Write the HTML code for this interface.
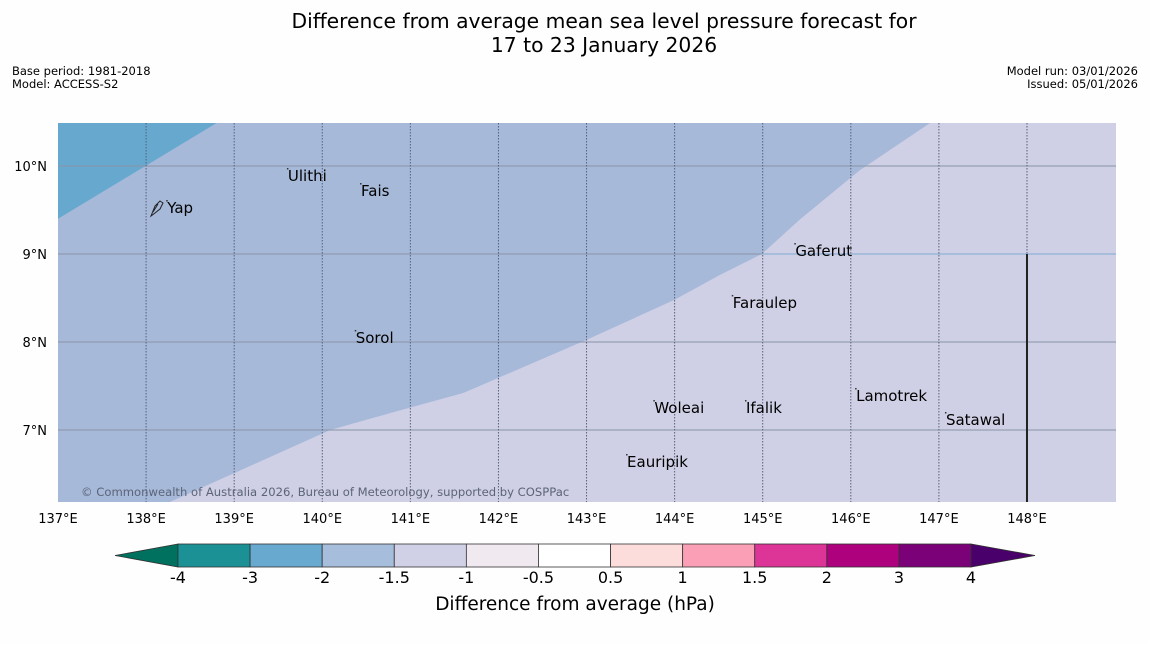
<!DOCTYPE html>
<html><head><meta charset="utf-8"><style>
body{margin:0;background:#fff;font-family:"DejaVu Sans","Liberation Sans",sans-serif;}
</style></head><body>
<svg id="c" width="1150" height="644" xmlns="http://www.w3.org/2000/svg" font-family="DejaVu Sans, Liberation Sans, sans-serif">
<rect width="1150" height="644" fill="#fefefe"/>
<text x="604" y="28" font-size="20.3" text-anchor="middle">Difference from average mean sea level pressure forecast for</text>
<text x="604" y="52" font-size="20.3" text-anchor="middle">17 to 23 January 2026</text>
<text x="12" y="75" font-size="11.5">Base period: 1981-2018</text>
<text x="12" y="88" font-size="11.5">Model: ACCESS-S2</text>
<text x="1138" y="75" font-size="11.5" text-anchor="end">Model run: 03/01/2026</text>
<text x="1138" y="88" font-size="11.5" text-anchor="end">Issued: 05/01/2026</text>
<g id="map"></g>
<g id="cbar"></g>
</svg>
<script>
const lonTicks=[137,138,139,140,141,142,143,144,145,146,147,148];
const latTicks=[7,8,9,10];
const boundLon=[138.27,139.2,140.09,140.8,141.6,142.99,144.0,144.51,144.99,145.42,146.1,146.9];
const boundLat=[6.18,6.6,7.0,7.2,7.42,8.02,8.48,8.76,9.0,9.39,9.95,10.49];
const darkLon=[137,138.8];
const darkLat=[9.4,10.49];
const places=["Yap","Ulithi","Fais","Gaferut","Faraulep","Sorol","Woleai","Ifalik","Lamotrek","Satawal","Eauripik"];
const placeLon=[138.24,139.61,140.44,145.37,144.66,140.38,143.77,144.81,146.06,147.08,143.46];
const placeLat=[9.534,9.898,9.727,9.045,8.455,8.057,7.261,7.261,7.398,7.125,6.648];
const cbLevels=["-4","-3","-2","-1.5","-1","-0.5","0.5","1","1.5","2","3","4"];
const cbColors=["#1b9196","#67a9cf","#a6bddb","#d0d1e6","#f0eaf0","#ffffff","#fddcdc","#fa9fb5","#dd3497","#ae017e","#7a0177"];
const NS="http://www.w3.org/2000/svg";
const X0=58,X1=1116,Y0=123,Y1=502;
const px=l=>58+(l-137)*88.09;
const py=l=>166+(10-l)*88;
function mk(t,a,p){const e=document.createElementNS(NS,t);for(const k in a)e.setAttribute(k,a[k]);p.appendChild(e);return e;}
const map=document.getElementById('map');
const bg=mk('rect',{x:X0,y:Y0,width:X1-X0,height:Y1-Y0,fill:'#cfd0e5'},map);


let pts=[[X0,Y1]];
boundLon.forEach((l,i)=>pts.push([px(l),py(boundLat[i])]));
const poly=mk('path',{d:`M${X0},${Y0} `+pts.map(p=>`L${p[0]},${Math.max(Y0,Math.min(Y1,p[1]))}`).join(' ')+` L${px(boundLon[boundLon.length-1])},${Y0} Z`,fill:'#a6b9d9'},map);


const dk=mk('path',{d:`M${X0},${Y0} L${X0},${py(darkLat[0])} L${px(darkLon[1])},${Y0} Z`,fill:'#67a8cf'},map);


latTicks.forEach(l=>{
 const g=mk('line',{x1:X0,x2:X1,y1:py(l),y2:py(l),stroke:'#8a94a8','stroke-width':1},map);
 
 
 const t=mk('text',{x:47,y:py(l)+5,'font-size':13,'text-anchor':'end'},map);t.textContent=l+'°N';
 
 
});
const l9=mk('line',{x1:px(144.99),y1:py(9),x2:X1,y2:py(9),stroke:'#a6bddb','stroke-width':2},map);


lonTicks.forEach(l=>{
 if(l>137){const g=mk('line',{x1:px(l),x2:px(l),y1:Y0,y2:Y1,stroke:'#55607a','stroke-width':1,'stroke-dasharray':'1.5,1.5'},map);
 
 }
 const t=mk('text',{x:px(l),y:523,'font-size':13,'text-anchor':'middle'},map);t.textContent=l+'°E';
 
 
});
const vl=mk('line',{x1:px(148),x2:px(148),y1:py(9),y2:Y1,stroke:'#222','stroke-width':2},map);


const yi=mk('path',{d:'M151,216 L155,206 L160,201 L163,203 L160,209 L155,213 Z M153,212 L158,204',fill:'none',stroke:'#222','stroke-width':1},map);


places.forEach((n,i)=>{
 const x=px(placeLon[i]),y=py(placeLat[i]);
 const dt=mk('rect',{x:x-1,y:y-7,width:1.5,height:1.5,fill:'#333'},map);
 
 
 const t=mk('text',{x:x,y:y+6,'font-size':15},map);t.textContent=n;
 
 
});
const cp=mk('text',{x:81,y:496,'font-size':11.6,fill:'#5c6478'},map);cp.textContent='© Commonwealth of Australia 2026, Bureau of Meteorology, supported by COSPPac';


const cb=document.getElementById('cbar');
const CX0=178,CX1=971,CY0=544,CY1=567,w=(CX1-CX0)/cbColors.length;
const lt=mk('path',{d:`M${CX0},${CY0} L115,555.5 L${CX0},${CY1} Z`,fill:'#00705f',stroke:'#333','stroke-width':0.8},cb);


const rt=mk('path',{d:`M${CX1},${CY0} L1035,555.5 L${CX1},${CY1} Z`,fill:'#49006a',stroke:'#333','stroke-width':0.8},cb);


cbColors.forEach((c,i)=>{
 const r=mk('rect',{x:CX0+i*w,y:CY0,width:w,height:CY1-CY0,fill:c,stroke:'#333','stroke-width':0.8},cb);
 
 
});
cbLevels.forEach((v,i)=>{
 const t=mk('text',{x:CX0+i*w,y:583,'font-size':16,'text-anchor':'middle'},cb);t.textContent=v;
 
 
});
const ct=mk('text',{x:575,y:610,'font-size':18.5,'text-anchor':'middle'},cb);ct.textContent='Difference from average (hPa)';


</script>
</body></html>
